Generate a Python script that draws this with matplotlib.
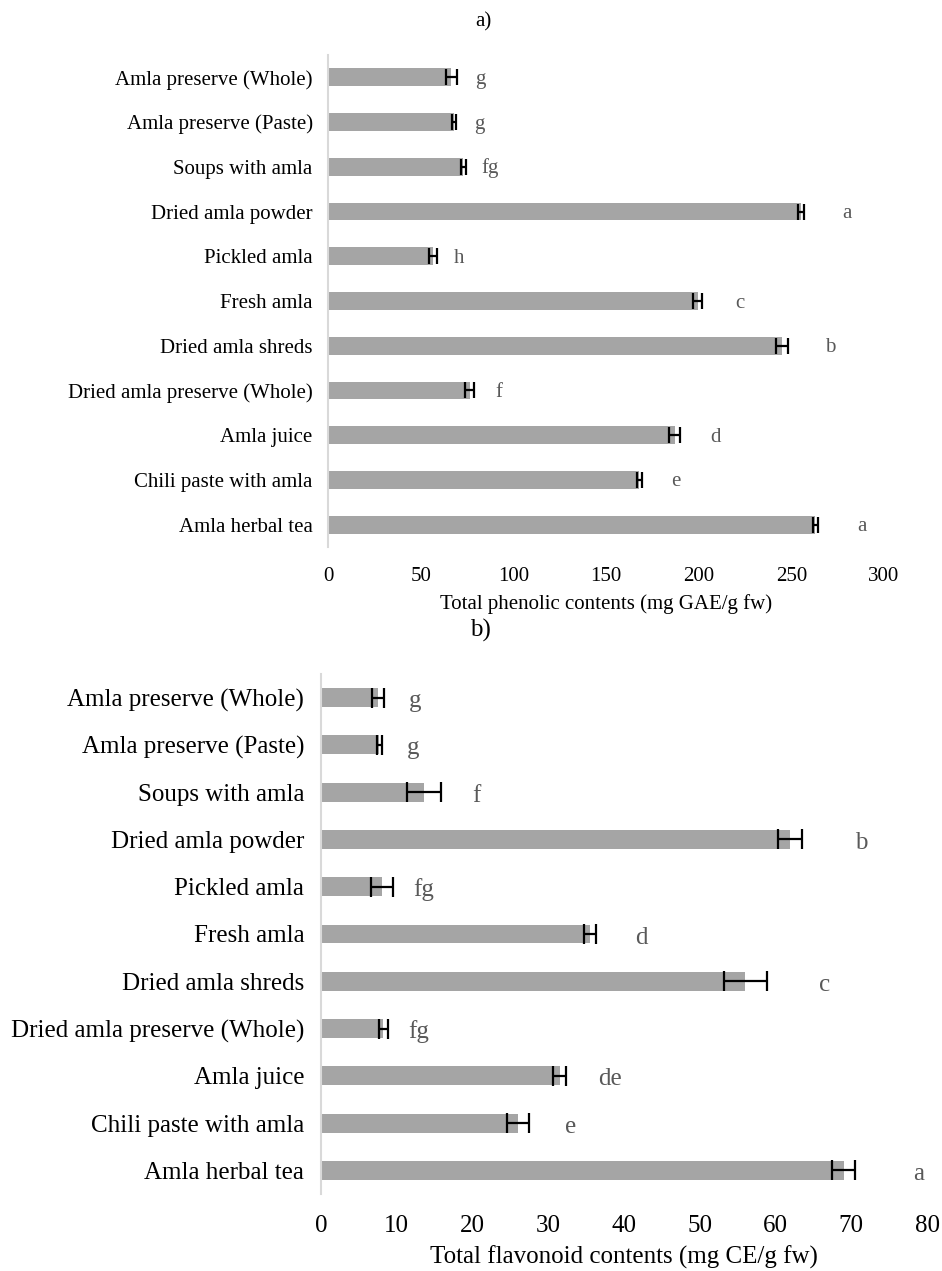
import matplotlib
matplotlib.use("Agg")
import matplotlib.pyplot as plt
import matplotlib.transforms as mtransforms
import numpy as np

plt.rcParams['font.family'] = ['Liberation Serif', 'DejaVu Serif']

categories = [
    "Amla preserve (Whole)",
    "Amla preserve (Paste)",
    "Soups with amla",
    "Dried amla powder",
    "Pickled amla",
    "Fresh amla",
    "Dried amla shreds",
    "Dried amla preserve (Whole)",
    "Amla juice",
    "Chili paste with amla",
    "Amla herbal tea",
]

phenolic = [66.6, 68.0, 73.0, 255.0, 56.6, 199.5, 245.0, 76.5, 187.0, 168.0, 263.0]
phenolic_err = [3.1, 1.2, 1.5, 1.6, 2.3, 2.4, 3.1, 2.4, 2.9, 1.5, 1.4]
phenolic_letters = ["g", "g", "fg", "a", "h", "c", "b", "f", "d", "e", "a"]

flavonoid = [7.5, 7.7, 13.6, 61.9, 8.0, 35.5, 56.0, 8.2, 31.5, 26.0, 69.0]
flavonoid_err = [0.8, 0.35, 2.3, 1.55, 1.45, 0.75, 2.85, 0.6, 0.85, 1.5, 1.5]
flavonoid_letters = ["g", "g", "f", "b", "fg", "d", "c", "fg", "de", "e", "a"]

phen_ticks = [0, 50, 100, 150, 200, 250, 300]
flav_ticks = [0, 10, 20, 30, 40, 50, 60, 70, 80]

W, H = 942, 1271
fig = plt.figure(figsize=(W / 100, H / 100), dpi=100)

BAR = "#A5A5A5"
AXC = "#D9D9D9"
LET = "#595959"


def make_panel(rect_px, vals, errs, letters, ticks, xmax, xlabel, fs,
               capsize, k, c, ypad, xpad, labelpad, base_off_px):
    l, t, r, b = rect_px
    ax = fig.add_axes([l / W, 1 - b / H, (r - l) / W, (b - t) / H])
    y = np.arange(len(categories))
    ax.barh(y, vals, height=0.4, color=BAR, zorder=2)
    ax.errorbar(vals, y, xerr=errs, fmt='none', ecolor='black',
                elinewidth=1.6, capsize=capsize, capthick=1.6, zorder=3)
    off = mtransforms.offset_copy(ax.transData, fig=fig, x=0,
                                  y=-base_off_px, units='dots')
    for yi, v, e, s in zip(y, vals, errs, letters):
        ax.text((v + e) * k + c, yi, s, ha='center', va='baseline',
                fontsize=fs, color=LET, transform=off)
    ax.set_xlim(0, xmax)
    ax.set_ylim(len(categories) - 0.5, -0.5)
    ax.set_yticks(y)
    ax.set_yticklabels(categories, fontsize=fs, color='black')
    ax.set_xticks(ticks)
    ax.set_xticklabels([str(t) for t in ticks], fontsize=fs, color='black')
    ax.tick_params(axis='both', length=0)
    ax.tick_params(axis='y', pad=ypad)
    ax.tick_params(axis='x', pad=xpad)
    for sp in ['top', 'right', 'bottom']:
        ax.spines[sp].set_visible(False)
    ax.spines['left'].set_color(AXC)
    ax.spines['left'].set_linewidth(1.5)
    ax.set_xlabel(xlabel, fontsize=fs, color='black', labelpad=labelpad)
    return ax


make_panel((328, 55, 884, 547), phenolic, phenolic_err, phenolic_letters,
           phen_ticks, 300, "Total phenolic contents (mg GAE/g fw)", 15,
           5.5, 1.057, 8.6, 11, 14.3, 6, 6.5)
make_panel((321, 674, 927, 1194), flavonoid, flavonoid_err, flavonoid_letters,
           flav_ticks, 80, "Total flavonoid contents (mg CE/g fw)", 18,
           7, 1.07, 3.5, 12, 15.3, 6, 9.5)

fig.text(483 / W, 1 - 22 / H, "a)", ha='center', va='center', fontsize=15)
fig.text(480 / W, 1 - 630 / H, "b)", ha='center', va='center', fontsize=18)

fig.savefig("out.png", dpi=100)
